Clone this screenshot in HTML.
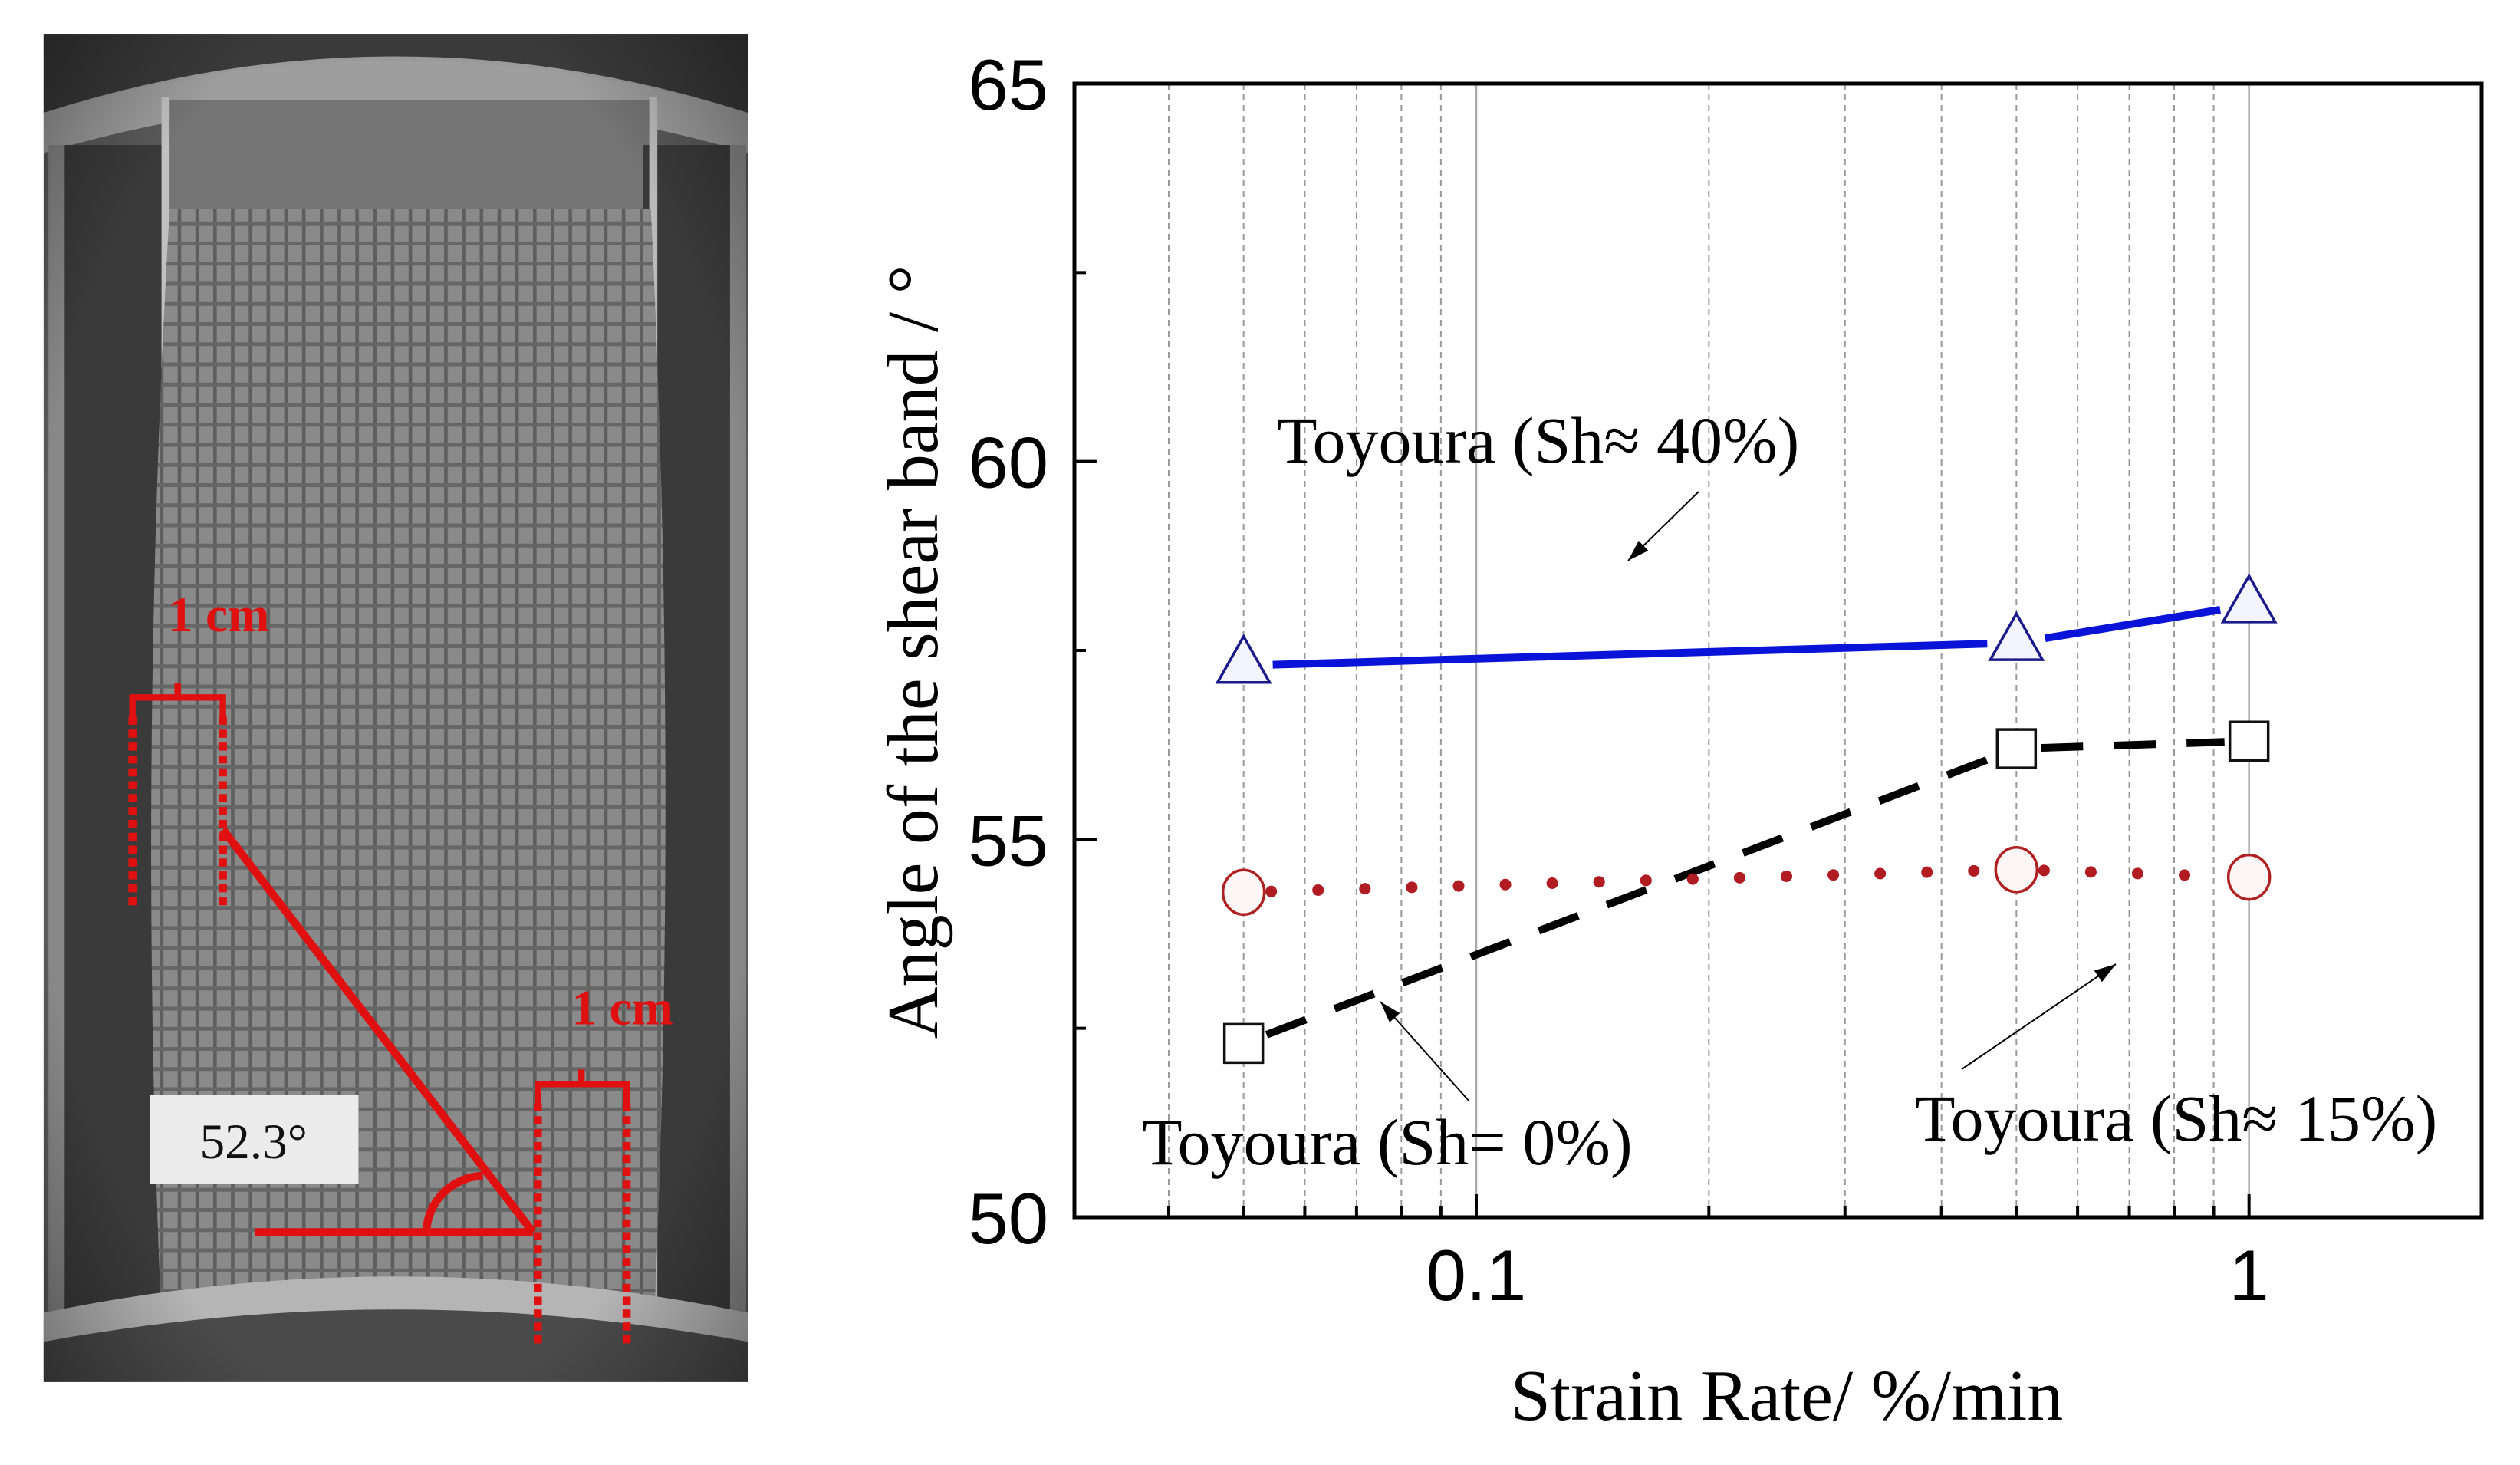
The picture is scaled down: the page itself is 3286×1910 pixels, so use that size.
<!DOCTYPE html>
<html><head><meta charset="utf-8"><style>
html,body{margin:0;padding:0;background:#fff}
svg{display:block}
</style></head><body>
<svg id="fig" width="3286" height="1910" viewBox="0 0 3286 1910" xmlns="http://www.w3.org/2000/svg">
<defs>
<pattern id="grid" width="11" height="12.5" patternUnits="userSpaceOnUse">
<rect width="11" height="12.5" fill="#8a8a8a"/>
<rect x="0" y="0" width="2.2" height="12.5" fill="#5e5e5e"/>
<rect x="0" y="0" width="11" height="2.4" fill="#666"/>
</pattern>
<radialGradient id="vig" cx="0.5" cy="0.5" r="0.75">
<stop offset="0.7" stop-color="#000" stop-opacity="0"/>
<stop offset="1" stop-color="#000" stop-opacity="0.45"/>
</radialGradient>
</defs>

<g transform="scale(2.106,2.1)">
<rect x="27" y="21" width="436" height="837" fill="#5a5a5a"/>
<path d="M27 21 H463 V70 Q245 5 27 70 Z" fill="#3a3a3a"/>
<path d="M27 70 Q245 0 463 70 L463 95 Q245 30 27 95 Z" fill="#a5a5a5" opacity="0.9"/>
<rect x="105" y="62" width="300" height="68" fill="#747474"/>
<rect x="40" y="90" width="62" height="730" fill="#3a3a3a"/>
<rect x="398" y="90" width="55" height="730" fill="#3a3a3a"/>
<rect x="100" y="60" width="5" height="760" fill="#c0c0c0"/>
<rect x="402" y="60" width="5" height="760" fill="#bbb"/>
<rect x="30" y="90" width="10" height="730" fill="#888"/>
<rect x="452" y="90" width="10" height="730" fill="#888"/>
<path d="M105 130 H403 Q420 480 405 820 H100 Q85 480 105 130 Z" fill="url(#grid)"/>
<path d="M27 820 Q245 780 463 820 V858 H27 Z" fill="#4a4a4a"/>
<path d="M27 815 Q245 770 463 815 L463 833 Q245 793 27 833 Z" fill="#b5b5b5"/>
<rect x="27" y="21" width="436" height="837" fill="url(#vig)"/>
<g stroke="#e01010" fill="none">
<path d="M82 445 V433 H138 V445 M110 433 V424" stroke-width="4"/>
<line x1="82" y1="445" x2="82" y2="565" stroke-width="5" stroke-dasharray="5 3"/>
<line x1="138" y1="445" x2="138" y2="565" stroke-width="5" stroke-dasharray="5 3"/>
</g>
<text x="104" y="392" font-family="Liberation Serif, serif" font-weight="bold" font-size="31" fill="#e01010">1 cm</text>
<g stroke="#e01010" fill="none">
<path d="M333 685 V673 H388 V685 M360 673 V664" stroke-width="4"/>
<line x1="333" y1="685" x2="333" y2="835" stroke-width="5" stroke-dasharray="5 3"/>
<line x1="388" y1="685" x2="388" y2="835" stroke-width="5" stroke-dasharray="5 3"/>
</g>
<text x="354" y="636" font-family="Liberation Serif, serif" font-weight="bold" font-size="31" fill="#e01010">1 cm</text>
<g stroke="#e01010" fill="none" stroke-width="5">
<line x1="138" y1="515" x2="330" y2="765"/>
<line x1="158" y1="765" x2="330" y2="765"/>
<path d="M264 765 A36 36 0 0 1 299 730"/>
</g>
<rect x="93" y="680" width="129" height="55" fill="#ececec"/>
<text x="157" y="719" text-anchor="middle" font-family="Liberation Serif, serif" font-size="31" fill="#111">52.3°</text>
</g>

<g id="chart"></g>
</svg>
<script>
const categories = [0.05, 0.5, 1];
const sh40 = [57.3, 57.6, 58.1];
const sh0 = [52.3, 56.2, 56.3];
const sh15 = [54.3, 54.6, 54.5];
const yTicks = [50, 55, 60, 65];
const xTickLabels = ["0.1", "1"];
const xTickValues = [0.1, 1];
const minorX = [0.04,0.05,0.06,0.07,0.08,0.09,0.2,0.3,0.4,0.5,0.6,0.7,0.8,0.9];

const NS = "http://www.w3.org/2000/svg";
const g = document.getElementById('chart');
const L = 1401, R = 3236, T = 109, B = 1587;
const xmin = 0.0302, xmax = 2.0, ymin = 50, ymax = 65;
function X(v){ return L + (Math.log10(v)-Math.log10(xmin))/(Math.log10(xmax)-Math.log10(xmin))*(R-L); }
function Y(v){ return B - (v-ymin)/(ymax-ymin)*(B-T); }
function mk(tag, attrs, parent){ const e=document.createElementNS(NS,tag); for(const k in attrs) e.setAttribute(k,attrs[k]); (parent||g).appendChild(e); return e; }

minorX.forEach(v=>{
  const e = mk('line',{x1:X(v),x2:X(v),y1:T,y2:B,stroke:'#999','stroke-width':2,'stroke-dasharray':'8 6'});
  
  
});
xTickValues.forEach(v=>{
  const e = mk('line',{x1:X(v),x2:X(v),y1:T,y2:B,stroke:'#aaa','stroke-width':2.5});
  
  
});
const fr = mk('rect',{x:L,y:T,width:R-L,height:B-T,fill:'none',stroke:'#000','stroke-width':5});


for(let v=50; v<=65; v+=2.5){
  const major = (v%5===0);
  const t = mk('line',{x1:L,x2:L+(major?30:15),y1:Y(v),y2:Y(v),stroke:'#000','stroke-width':4});
  
  
}
yTicks.forEach(v=>{
  const t = mk('text',{x:1367,y:Y(v)+34,'text-anchor':'end','font-family':'Liberation Sans, Arial, sans-serif','font-size':94,fill:'#000'});
  t.textContent = v;
  
  
});
minorX.concat(xTickValues).forEach(v=>{
  const major = xTickValues.includes(v);
  const t = mk('line',{x1:X(v),x2:X(v),y1:B,y2:B-(major?30:15),stroke:'#000','stroke-width':4});
  
  
});
xTickValues.forEach((v,i)=>{
  const t = mk('text',{x:X(v),y:1695,'text-anchor':'middle','font-family':'Liberation Sans, Arial, sans-serif','font-size':94,fill:'#000'});
  t.textContent = xTickLabels[i];
  
  
});
const xt = mk('text',{x:2330,y:1851,'text-anchor':'middle','font-family':'Liberation Serif, Times New Roman, serif','font-size':94,fill:'#000'});
xt.textContent = 'Strain Rate/ %/min';


const yt = mk('text',{x:0,y:0,'text-anchor':'middle','font-family':'Liberation Serif, Times New Roman, serif','font-size':94,fill:'#000',transform:'translate(1222,850) rotate(-90)'});
yt.textContent = 'Angle of the shear band / °';



function seriesLine(vals, gap, style, name){
  for(let i=0;i<vals.length-1;i++){
    const x1=X(categories[i]), y1=Y(vals[i]), x2=X(categories[i+1]), y2=Y(vals[i+1]);
    const d=Math.hypot(x2-x1,y2-y1), ux=(x2-x1)/d, uy=(y2-y1)/d;
    const e = mk('line',Object.assign({x1:x1+ux*gap,y1:y1+uy*gap,x2:x2-ux*gap,y2:y2-uy*gap},style));
    
    
  }
}
seriesLine(sh40, 38, {stroke:'#0a14d8','stroke-width':10}, 'line-sh40');
seriesLine(sh0, 32, {stroke:'#000','stroke-width':10,'stroke-dasharray':'55 40'}, 'line-sh0');
seriesLine(sh15, 36, {stroke:'#b01c22','stroke-width':15,'stroke-dasharray':'0.1 61','stroke-linecap':'round'}, 'line-sh15');

categories.forEach((c,i)=>{
  const x=X(c), y=Y(sh40[i]);
  const t = mk('path',{d:`M${x} ${y-38} L${x+34} ${y+22} L${x-34} ${y+22} Z`,fill:'#f4f4ff',stroke:'#1a1a8a','stroke-width':3.5});
  
  
  const ys=Y(sh0[i]);
  const s = mk('rect',{x:x-25,y:ys-25,width:50,height:50,fill:'#fff',stroke:'#111','stroke-width':3.5});
  
  
  const yc=Y(sh15[i]);
  const ci = mk('ellipse',{cx:x,cy:yc,rx:27,ry:29,fill:'#fdf6f6',stroke:'#b02020','stroke-width':3.5});
  
  
});

function label(txt,x,y,name){
  const t = mk('text',{x:x,y:y,'font-family':'Liberation Serif, Times New Roman, serif','font-size':86,fill:'#000'});
  t.textContent=txt;
  
  
}
label('Toyoura (Sh≈ 40%)',1665,603,'annotation-sh40');
label('Toyoura (Sh= 0%)',1489,1518,'annotation-sh0');
label('Toyoura (Sh≈ 15%)',2497,1487,'annotation-sh15');
function arrow(x1,y1,x2,y2,name){
  const a = mk('line',{x1:x1,y1:y1,x2:x2,y2:y2,stroke:'#000','stroke-width':2});
  
  
  const d=Math.hypot(x2-x1,y2-y1), ux=(x2-x1)/d, uy=(y2-y1)/d, L2=28, W=9;
  const bx=x2-ux*L2, by=y2-uy*L2;
  const h = mk('path',{d:`M${x2} ${y2} L${bx-uy*W} ${by+ux*W} L${bx+uy*W} ${by-ux*W} Z`,fill:'#000'});
  
  
}
arrow(2215,641,2123,731,'arrow-sh40');
arrow(1916,1436,1800,1306,'arrow-sh0');
arrow(2558,1394,2759,1257,'arrow-sh15');
</script>
</body></html>
